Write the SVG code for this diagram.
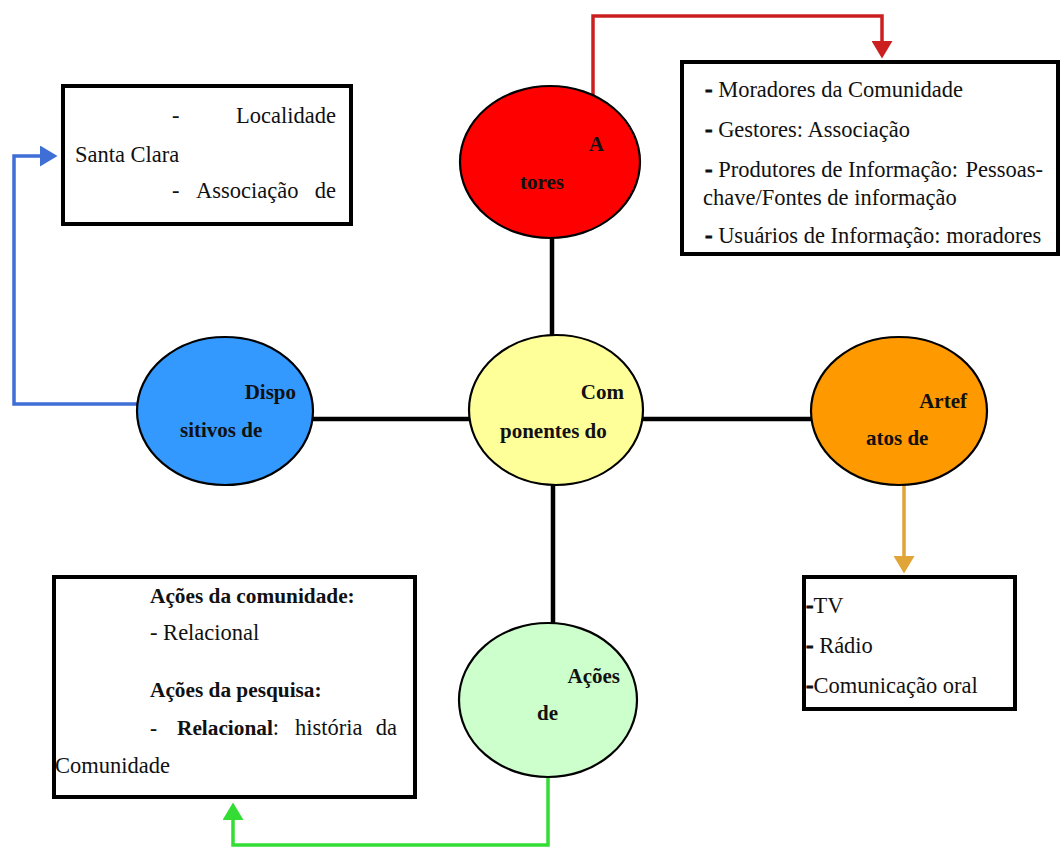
<svg xmlns="http://www.w3.org/2000/svg" width="1060" height="849" viewBox="0 0 1060 849">
<style>
.t{font-family:"Liberation Serif","Times New Roman",serif;font-size:22.5px;fill:#111}
.b{font-weight:bold;font-size:21.3px}
.d{font-weight:bold;stroke:#111;stroke-width:0.8}
.lbl{font-family:"Liberation Serif","Times New Roman",serif;font-size:21px;font-weight:bold;fill:#111}
.box{fill:#fff;stroke:#000;stroke-width:4}
.ell{stroke:#000;stroke-width:2.2}
.link{stroke:#000;stroke-width:4.5;fill:none}
.arr{fill:none;stroke-width:3.5;stroke-linejoin:miter}
</style>
<defs>
<marker id="mr" markerWidth="6" markerHeight="6" refX="4" refY="3" orient="auto" markerUnits="strokeWidth"><path d="M0,0 L5,3 L0,6 Z" fill="#cc2020"/></marker>
<marker id="mb" markerWidth="6" markerHeight="6" refX="4" refY="3" orient="auto" markerUnits="strokeWidth"><path d="M0,0 L5,3 L0,6 Z" fill="#3f6fd6"/></marker>
<marker id="mg" markerWidth="6" markerHeight="6" refX="4" refY="3" orient="auto" markerUnits="strokeWidth"><path d="M0,0 L5,3 L0,6 Z" fill="#33dd33"/></marker>
<marker id="mo" markerWidth="6" markerHeight="6" refX="4" refY="3" orient="auto" markerUnits="strokeWidth"><path d="M0,0 L5,3 L0,6 Z" fill="#e0a437"/></marker>
</defs>
<rect width="1060" height="849" fill="#fff"/>
<g id="connectors">
<line class="link" x1="552" y1="236" x2="552" y2="336"/>
<line class="link" x1="312" y1="419" x2="470" y2="419"/>
<line class="link" x1="643" y1="419" x2="812" y2="419"/>
<line class="link" x1="553" y1="483" x2="553" y2="624"/>
<path class="arr" d="M593,100 V16 H882 V55" stroke="#cc2020" marker-end="url(#mr)"/>
<path class="arr" d="M138,404 H14 V156 H54" stroke="#3f6fd6" marker-end="url(#mb)"/>
<path class="arr" d="M548,777 V845 H233 V806" stroke="#33dd33" marker-end="url(#mg)"/>
<path class="arr" d="M904,485 V570" stroke="#e0a437" marker-end="url(#mo)"/>
</g>
<g id="atores">
<ellipse class="ell" cx="550" cy="162" rx="90" ry="76" fill="#ff0000"/>
<text class="lbl" x="604" y="151" text-anchor="end">A</text>
<text class="lbl" x="520" y="189">tores</text>
</g>
<g id="componentes">
<ellipse class="ell" cx="556" cy="410" rx="87" ry="75" fill="#ffff99"/>
<text class="lbl" x="624" y="399" text-anchor="end">Com</text>
<text class="lbl" x="500" y="438">ponentes do</text>
</g>
<g id="dispositivos">
<ellipse class="ell" cx="225" cy="411" rx="88" ry="74" fill="#3399ff"/>
<text class="lbl" x="296" y="399" text-anchor="end">Dispo</text>
<text class="lbl" x="180" y="437">sitivos de</text>
</g>
<g id="artefatos">
<ellipse class="ell" cx="899" cy="411" rx="88" ry="74" fill="#ff9900"/>
<text class="lbl" x="967" y="408" text-anchor="end">Artef</text>
<text class="lbl" x="866" y="445">atos de</text>
</g>
<g id="acoes">
<ellipse class="ell" cx="548" cy="700" rx="89" ry="77" fill="#ccffcc"/>
<text class="lbl" x="620" y="683" text-anchor="end">Ações</text>
<text class="lbl" x="537" y="720">de</text>
</g>
<g id="box-atores">
<rect class="box" x="682" y="62" width="376" height="192"/>
<text class="t" x="705" y="97"><tspan class="d">-</tspan> Moradores da Comunidade</text>
<text class="t" x="705" y="137"><tspan class="d">-</tspan> Gestores: Associação</text>
<text class="t" x="705" y="177"><tspan class="d">-</tspan> Produtores de Informação:</text>
<text class="t" x="1043" y="177" text-anchor="end">Pessoas-</text>
<text class="t" x="703" y="205">chave/Fontes de informação</text>
<text class="t" x="705" y="243"><tspan class="d">-</tspan> Usuários de Informação: moradores</text>
</g>
<g id="box-dispositivos">
<rect class="box" x="63" y="86" width="288" height="138"/>
<text class="t" x="172" y="123">-</text>
<text class="t" x="336" y="123" text-anchor="end">Localidade</text>
<text class="t" x="75" y="162">Santa Clara</text>
<text class="t" x="172" y="198">-</text>
<text class="t" x="196" y="198">Associação</text>
<text class="t" x="336" y="198" text-anchor="end">de</text>
</g>
<g id="box-acoes">
<rect class="box" x="54" y="577" width="361" height="220"/>
<text class="t b" x="150" y="603">Ações da comunidade:</text>
<text class="t" x="150" y="640">- Relacional</text>
<text class="t b" x="150" y="697">Ações da pesquisa:</text>
<text class="t b" x="150" y="735">-</text>
<text class="t" x="177" y="735"><tspan class="b">Relacional</tspan>:</text>
<text class="t" x="295" y="735">história</text>
<text class="t" x="397" y="735" text-anchor="end">da</text>
<text class="t" x="55" y="773">Comunidade</text>
</g>
<g id="box-artefatos">
<rect class="box" x="804" y="577" width="211" height="132"/>
<text class="t" x="806" y="613"><tspan class="d">-</tspan>TV</text>
<text class="t" x="806" y="653"><tspan class="d">-</tspan> Rádio</text>
<text class="t" x="806" y="693"><tspan class="d">-</tspan>Comunicação oral</text>
</g>
</svg>
